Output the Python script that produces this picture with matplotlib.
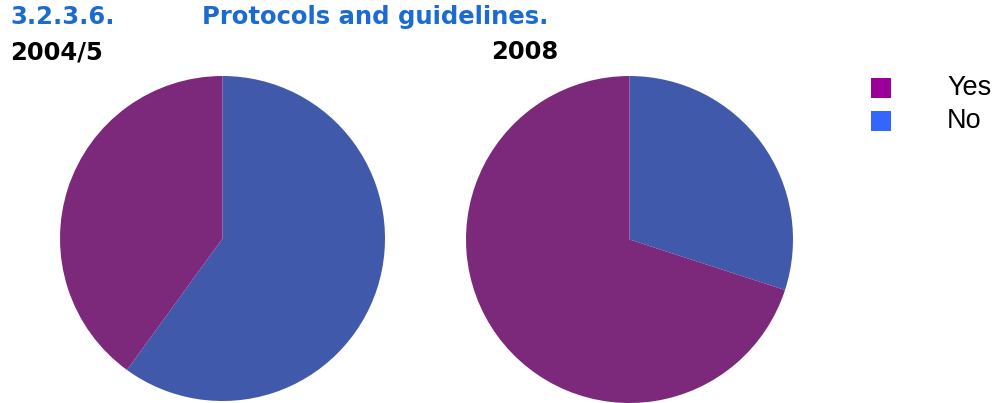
import matplotlib
matplotlib.use("Agg")
import matplotlib.pyplot as plt
from matplotlib.patches import Rectangle

W, H = 995, 403

periods = ["2004/5", "2008"]
answers = ["Yes", "No"]
yes_pct = [40, 70]
no_pct = [60, 30]

pie_colors = {"Yes": "#7c297c", "No": "#4059ab"}
legend_colors = {"Yes": "#990099", "No": "#3366ff"}

fig = plt.figure(figsize=(W / 100, H / 100), dpi=100)
fig.patch.set_facecolor("white")


def px_axes(left, top, width, height):
    return fig.add_axes([left / W, 1 - (top + height) / H, width / W, height / H])


# pie panels (left, top, diameter in pixels)
panels = [(60, 76, 325), (466, 76, 327)]
for (left, top, d), y, n in zip(panels, yes_pct, no_pct):
    ax = px_axes(left, top, d, d)
    ax.pie([n, y], colors=[pie_colors["No"], pie_colors["Yes"]],
           startangle=90, counterclock=False, radius=1.0,
           wedgeprops=dict(linewidth=0, antialiased=True))
    ax.set_xlim(-1, 1)
    ax.set_ylim(-1, 1)
    ax.set_aspect("equal")
    ax.axis("off")

# headings
head_size = 17.5
fig.text(10 / W, 1 - 17 / H, "3.2.3.6.", color="#1c6bd0", fontsize=head_size,
         fontweight="bold", family="DejaVu Sans", va="center", ha="left")
fig.text(202 / W, 1 - 17 / H, "Protocols and guidelines.", color="#1c6bd0",
         fontsize=head_size, fontweight="bold", family="DejaVu Sans",
         va="center", ha="left")
for x, label in zip([10, 491], periods):
    fig.text(x / W, 1 - 52 / H, label, color="black", fontsize=head_size,
             fontweight="bold", family="DejaVu Sans", va="center", ha="left")

# legend
for i, a in enumerate(answers):
    yc = 88 + i * 33
    fig.patches.append(Rectangle((871 / W, 1 - (yc + 10) / H), 20 / W, 20 / H,
                                 transform=fig.transFigure,
                                 color=legend_colors[a], linewidth=0))
    fig.text(947 / W, 1 - yc / H, a, color="black", fontsize=19.5,
             family="Liberation Sans", va="center", ha="left")

fig.savefig("out.png", dpi=100)
